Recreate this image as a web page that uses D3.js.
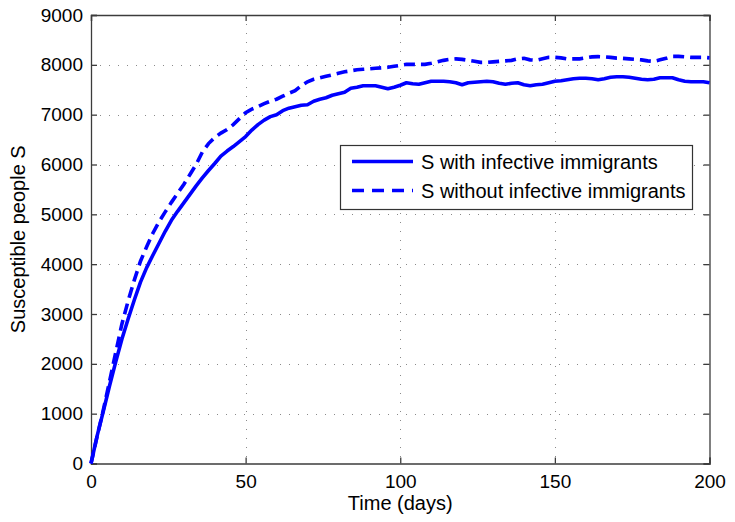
<!DOCTYPE html>
<html>
<head>
<meta charset="utf-8">
<script src="https://cdn.jsdelivr.net/npm/d3@7"></script>
<style>
  body { margin: 0; background: #fff; }
  text { font-family: "Liberation Sans", Arial, sans-serif; }
</style>
</head>
<body>
<div id="chart"></div>
<script>
// days sampled every 2
const days = d3.range(0, 201, 2);

// S with infective immigrants
const withImm = [
  0, 560, 1050, 1560, 2040, 2500, 2900, 3280, 3640, 3930,
  4180, 4420, 4660, 4880, 5060, 5230, 5400, 5570, 5730, 5880,
  6020, 6170, 6270, 6360, 6460, 6560, 6690, 6800, 6890, 6960,
  7000, 7080, 7130, 7160, 7190, 7200, 7270, 7310, 7340, 7390,
  7420, 7450, 7530, 7550, 7580, 7580, 7580, 7550, 7520, 7550,
  7590, 7640, 7620, 7610, 7640, 7670, 7670, 7670, 7660, 7640,
  7600, 7640, 7650, 7660, 7670, 7660, 7630, 7610, 7630, 7640,
  7600, 7580, 7600, 7610, 7640, 7670, 7680, 7700, 7720, 7730,
  7730, 7720, 7700, 7720, 7750, 7760, 7760, 7750, 7730, 7710,
  7700, 7710, 7740, 7740, 7740, 7700, 7670, 7660, 7660, 7660,
  7640
];

// S without infective immigrants
const withoutImm = [
  0, 550, 1080, 1650, 2230, 2800, 3260, 3680, 4060, 4350,
  4620, 4850, 5050, 5240, 5420, 5600, 5800, 6000, 6250, 6420,
  6540, 6630, 6700, 6800, 6920, 7040, 7110, 7160, 7220, 7270,
  7310, 7370, 7430, 7480, 7580, 7660, 7710, 7740, 7770, 7800,
  7830, 7860, 7880, 7900, 7910, 7920, 7930, 7940, 7950, 7970,
  7990, 8010, 8010, 8010, 8010, 8030, 8060, 8090, 8110, 8120,
  8110, 8090, 8070, 8050, 8050, 8060, 8070, 8080, 8090, 8120,
  8130, 8100, 8090, 8120, 8150, 8150, 8140, 8120, 8120, 8120,
  8140, 8160, 8165, 8160, 8150, 8135, 8130, 8120, 8110, 8100,
  8080, 8070, 8100, 8130, 8170, 8170, 8160, 8150, 8150, 8150,
  8140
];

const xTicks = [0, 50, 100, 150, 200];
const yTicks = [0, 1000, 2000, 3000, 4000, 5000, 6000, 7000, 8000, 9000];
const seriesNames = ["S with infective immigrants", "S without infective immigrants"];

const width = 735, height = 522;
const m = { left: 91, right: 709.5, top: 15, bottom: 463.5 };

const svg = d3.select("#chart").append("svg")
  .attr("width", width)
  .attr("height", height);

const x = d3.scaleLinear().domain([0, 200]).range([m.left, m.right]);
const y = d3.scaleLinear().domain([0, 9000]).range([m.bottom, m.top]);

// grid
const grid = svg.append("g")
  .attr("stroke", "#8a8a8a")
  .attr("stroke-width", 1)
  .attr("stroke-dasharray", "1,8");
grid.selectAll(".gx").data(xTicks.slice(1, -1)).enter().append("line")
  .attr("x1", d => Math.round(x(d)) + 0.5).attr("x2", d => Math.round(x(d)) + 0.5)
  .attr("y1", m.top).attr("y2", m.bottom);
grid.selectAll(".gy").data(yTicks.slice(1, -1)).enter().append("line")
  .attr("y1", d => Math.round(y(d)) + 0.5).attr("y2", d => Math.round(y(d)) + 0.5)
  .attr("x1", m.left).attr("x2", m.right);

// axes (ticks inward, box)
const axisColor = "#3c3c3c";
const fmt = d3.format("d");
const axB = svg.append("g").attr("transform", `translate(0,${m.bottom})`)
  .call(d3.axisBottom(x).tickValues(xTicks).tickSize(-6).tickPadding(11).tickFormat(fmt));
const axT = svg.append("g").attr("transform", `translate(0,${m.top})`)
  .call(d3.axisTop(x).tickValues(xTicks).tickSize(-6).tickFormat(""));
const axL = svg.append("g").attr("transform", `translate(${m.left},0)`)
  .call(d3.axisLeft(y).tickValues(yTicks).tickSize(-6).tickPadding(8).tickFormat(fmt));
const axR = svg.append("g").attr("transform", `translate(${m.right},0)`)
  .call(d3.axisRight(y).tickValues(yTicks).tickSize(-6).tickFormat(""));
[axB, axT, axL, axR].forEach(g => {
  g.select(".domain").attr("stroke", axisColor).attr("stroke-width", 1.3);
  g.selectAll(".tick line").attr("stroke", axisColor).attr("stroke-width", 1.3);
  g.selectAll(".tick text").attr("fill", "#000").style("font-size", "19px")
    .style("font-family", "'Liberation Sans', Arial, sans-serif");
});

// lines
const line = d3.line().x((d, i) => x(days[i])).y(d => y(d));
svg.append("path").datum(withImm)
  .attr("fill", "none").attr("stroke", "#0000ff").attr("stroke-width", 3.6)
  .attr("stroke-linejoin", "round")
  .attr("d", line);
svg.append("path").datum(withoutImm)
  .attr("fill", "none").attr("stroke", "#0000ff").attr("stroke-width", 3.6)
  .attr("stroke-dasharray", "11,6")
  .attr("d", line);

// axis labels
svg.append("text")
  .attr("x", (m.left + m.right) / 2).attr("y", 510)
  .attr("text-anchor", "middle").style("font-size", "20px")
  .text("Time (days)");
svg.append("text")
  .attr("transform", `translate(25,${(m.top + m.bottom) / 2}) rotate(-90)`)
  .attr("text-anchor", "middle").style("font-size", "20px")
  .text("Susceptible people S");

// legend
const lg = svg.append("g");
lg.append("rect")
  .attr("x", 340.5).attr("y", 145.5).attr("width", 352).attr("height", 64)
  .attr("fill", "#fff").attr("stroke", "#333").attr("stroke-width", 1.2);
const rows = [{ dash: null, y: 161.5 }, { dash: "12,8", y: 190.5 }];
rows.forEach((r, i) => {
  lg.append("line")
    .attr("x1", 352).attr("x2", 413).attr("y1", r.y).attr("y2", r.y)
    .attr("stroke", "#0000ff").attr("stroke-width", 3.6)
    .attr("stroke-dasharray", r.dash);
  lg.append("text")
    .attr("x", 421).attr("y", r.y + 7)
    .style("font-size", "20px")
    .text(seriesNames[i]);
});
</script>
</body>
</html>
